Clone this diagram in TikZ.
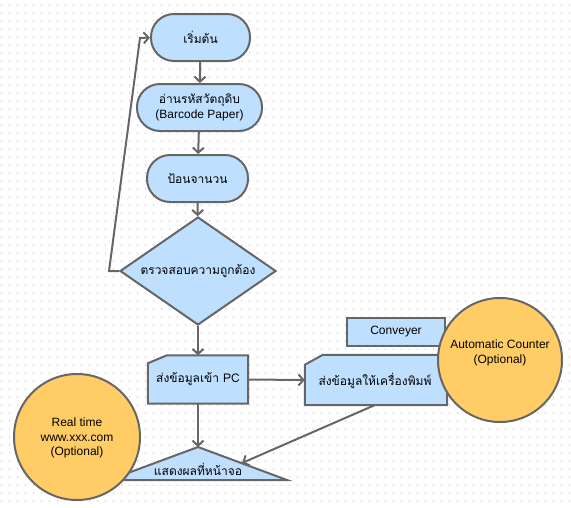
\documentclass[tikz,border=0pt]{standalone}
\usepackage{fontspec}
\setmainfont{Liberation Sans}
\newfontfamily\thai[Script=Thai]{Loma}
\usetikzlibrary{shapes.geometric,arrows.meta,calc}
\definecolor{boxfill}{HTML}{BFDFFF}
\definecolor{circfill}{HTML}{FFCC66}
\definecolor{edge}{HTML}{666666}
\definecolor{griddot}{HTML}{D8D8D8}
\tikzset{
  base/.style={draw=edge, line width=2pt, fill=boxfill, font=\fontsize{12}{14.5}\selectfont, align=center, inner sep=0pt},
  term/.style={base, rounded corners=23pt, minimum height=47pt},
  dec/.style={base, diamond, minimum width=156pt, minimum height=108pt, aspect=1.444},
  holder/.style={font=\fontsize{12}{14.5}\selectfont, align=center, inner sep=0pt},
  cutshape/.style={draw=edge, line width=2pt, fill=boxfill, line join=miter},
  plainbox/.style={base, rectangle},
  ocircle/.style={draw=edge, line width=2pt, fill=circfill, circle, inner sep=0pt},
  conn/.style={draw=edge, line width=2pt, -{Straight Barb[length=5pt,width=11pt,line width=2pt]}},
}
\begin{document}
\begin{tikzpicture}[x=1pt,y=-1pt]
\useasboundingbox (0,0) rectangle (571,507);
% dotted grid
\foreach \gx in {1,9,...,569} {
  \draw[griddot, line width=1pt, dash pattern=on 2pt off 6pt] (\gx,4) -- (\gx,507);
}
% process nodes
\node[term, minimum width=99pt] (start) at (200.5,37.5) {\thai เริ่มต้น};
\node[term, minimum width=125pt] (read) at (199.5,107.5) {\thai อ่านรหัสวัตถุดิบ\\(Barcode Paper)};
\node[term, minimum width=101pt] (input) at (197.5,178.5) {\thai ป้อนจานวน};
\node[dec] (check) at (198,271) {\thai ตรวจสอบความถูกต้อง};
% send to PC (manual input shape)
\node[holder, minimum width=100pt, minimum height=48pt] (pc) at (198,379.5) {};
\draw[cutshape] (pc.south west) -- (pc.south east) -- (pc.north east) -- ($(pc.north west)+(19,0)$) -- ($(pc.north west)+(0,8)$) -- cycle;
\node[holder] (pctext) at (pc.center) {\thai ส่งข้อมูลเข้า PC};
% conveyer
\node[plainbox, minimum width=98pt, minimum height=28pt] (conv) at (396,332) {Conveyer};
% printer
\node[holder, minimum width=142pt, minimum height=50pt] (prn) at (376,380) {};
\draw[cutshape] (prn.south west) -- (prn.south east) -- (prn.north east) -- ($(prn.north west)+(18,0)$) -- ($(prn.north west)+(0,10)$) -- cycle;
\node[holder] (prntext) at ($(prn.center)+(-1,1)$) {\thai ส่งข้อมูลให้เครื่องพิมพ์};
% display triangle
\coordinate (apex) at (198,447);
\coordinate (tl) at (109,480);
\coordinate (tr) at (287,480);
\draw[cutshape] (apex) -- (tr) -- (tl) -- cycle;
\node[holder] (disp) at (198,469) {\thai แสดงผลที่หน้าจอ};
% circles
\node[ocircle, minimum size=124pt] (auto) at (500,360) {};
\node[holder] (autotext) at (500,353) {Automatic Counter\\(Optional)};
\node[ocircle, minimum size=126pt] (rt) at (77,437) {};
\node[holder] (rttext) at (77,438) {Real time\\www.xxx.com\\(Optional)};
% connectors
\draw[conn] (start) -- (read);
\draw[conn] (read) -- (input);
\draw[conn] (input) -- (check);
\draw[conn] (check) -- (pc);
\draw[conn] (pc) -- (apex);
\draw[conn] (pc.east) -- (prn.west);
\coordinate (l1) at (109,271);
\coordinate (l2) at (140,38);
\draw[conn] (check.west) -- (l1) -- (l2) -- (start.west);
\coordinate (prnout) at (375,405);
\coordinate (dispin) at (242,463);
\draw[conn] (prnout) -- (dispin);
\end{tikzpicture}
\end{document}
